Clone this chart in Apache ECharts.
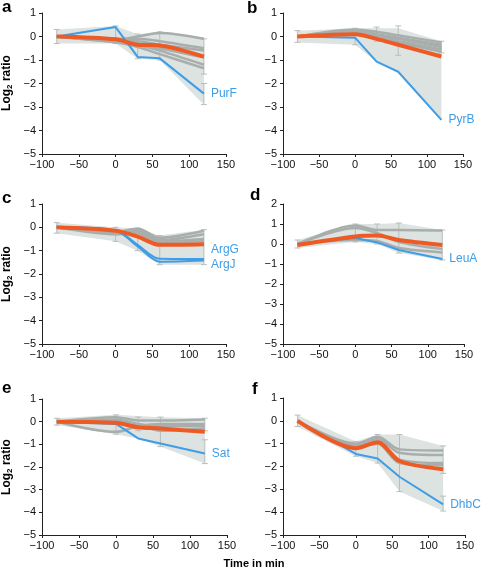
<!DOCTYPE html>
<html><head><meta charset="utf-8">
<script src="https://cdn.jsdelivr.net/npm/echarts@6/dist/echarts.min.js"></script>
<style>html,body{margin:0;padding:0;background:#fff}#c{width:484px;height:574px}</style>
</head><body><div id="c"></div>
<script>
// ---- data ----
const times = [-80, 0, 30, 60, 120];
const xTicks = [-100, -50, 0, 50, 100, 150];
const panelLetters = ['a', 'b', 'c', 'd', 'e', 'f'];
const highlightNames = [['PurF'], ['PyrB'], ['ArgG', 'ArgJ'], ['LeuA'], ['Sat'], ['DhbC']];

// panel a
const aBlue = [[0, 0.4, -0.87, -0.93, -2.43]];
const aMean = [0, -0.12, -0.35, -0.38, -0.86];
const aGray = [[0, -0.15, 0.0, 0.15, -0.1], [0, -0.1, -0.1, -0.2, -0.5], [0, -0.2, -0.2, -0.35, -0.6],
  [0, -0.15, -0.35, -0.6, -1.2], [0, -0.25, -0.45, -0.75, -1.35], [0, -0.2, -0.3, -0.5, -0.9]];
const aHi = [0.3, 0.45, 0.1, 0.2, -0.05];
const aLo = [-0.3, -0.3, -0.95, -1.0, -2.9];
const aErr = [[-80, -0.3, 0.3], [0, -0.3, 0.45], [30, -0.95, 0.1], [60, -1.0, 0.2], [120, -2.9, -2.0], [120, -1.6, -0.1]];

// panel b
const bBlue = [[0, -0.05, -1.07, -1.5, -3.55]];
const bMean = [0, 0.1, -0.1, -0.35, -0.85];
const bGray = [[0, 0.3, 0.2, 0.05, -0.25], [0, 0.25, 0.1, -0.05, -0.35], [0, 0.2, 0.05, -0.1, -0.45],
  [0, 0.15, 0.0, -0.2, -0.55], [0, 0.1, -0.05, -0.25, -0.65]];
const bHi = [0.25, 0.35, 0.35, 0.35, -0.2];
const bLo = [-0.25, -0.35, -1.07, -1.5, -3.55];
const bErr = [[-80, -0.25, 0.25], [0, -0.35, 0.35], [30, -0.2, 0.4], [60, -0.8, 0.45], [120, -0.7, -0.2]];

// panel c
const cBlue = [[0, -0.12, -0.75, -1.35, -1.36], [0, -0.15, -0.82, -1.47, -1.42]];
const cMean = [0, -0.15, -0.4, -0.75, -0.72];
const cGray = [[0, -0.2, -0.05, -0.45, -0.15], [0, -0.25, -0.1, -0.55, -0.3], [0, -0.3, -0.2, -0.6, -0.5],
  [0, -0.2, -0.25, -0.65, -0.6]];
const cHi = [0.2, 0.0, -0.05, -0.35, -0.1];
const cLo = [-0.25, -0.6, -1.0, -1.6, -1.6];
const cErr = [[-80, -0.25, 0.2], [0, -0.6, 0.0], [30, -1.0, -0.05], [60, -1.6, -0.35], [120, -1.6, -0.1]];

// panel d
const dBlue = [[0, 0.3, 0.08, -0.3, -0.75]];
const dMean = [-0.05, 0.38, 0.42, 0.2, -0.05];
const dGray = [[0, 0.92, 0.7, 0.7, 0.67], [0, 0.8, 0.55, 0.1, -0.25], [0, 0.2, 0.15, -0.2, -0.42]];
const dHi = [0.2, 1.0, 1.0, 1.05, 0.7];
const dLo = [-0.2, 0.1, 0.0, -0.45, -0.8];
const dErr = [[-80, -0.2, 0.2], [0, 0.1, 1.0], [30, 0.0, 1.0], [60, -0.45, 1.05], [120, -0.8, 0.7]];

// panel e
const eBlue = [[0, -0.1, -0.74, -0.96, -1.4]];
const eMean = [0, -0.05, -0.25, -0.3, -0.45];
const eGray = [[0, 0.2, 0.05, 0.05, 0.1], [0, -0.45, -0.2, -0.1, -0.1], [0, 0.1, -0.1, -0.2, -0.2],
  [0, 0.05, -0.15, -0.4, -0.3]];
const eHi = [0.15, 0.3, 0.25, 0.2, 0.15];
const eLo = [-0.15, -0.55, -0.75, -1.1, -1.85];
const eErr = [[-80, -0.15, 0.15], [0, -0.55, 0.3], [30, -0.4, 0.2], [60, -1.1, 0.2], [120, -1.85, -0.8], [120, -0.4, 0.15]];

// panel f
const fBlue = [[0, -1.45, -1.65, -2.45, -3.66]];
const fMean = [0, -1.2, -0.94, -1.76, -2.12];
const fGray = [[0, -1.0, -0.7, -1.25, -1.3], [0, -1.05, -0.8, -1.4, -1.5], [0, -1.1, -0.9, -1.7, -1.85],
  [0, -1.15, -1.0, -1.85, -1.95]];
const fHi = [0.25, -0.9, -0.6, -0.6, -1.1];
const fLo = [-0.25, -1.55, -1.85, -3.1, -3.95];
const fErr = [[-80, -0.25, 0.25], [0, -1.55, -0.9], [30, -1.85, -0.6], [60, -3.1, -0.6], [120, -3.95, -3.3], [120, -2.3, -1.1]];

const yMaxes = [1, 1, 1, 2, 1, 1];
const labelOffsets = [[0], [0], [-9, 4], [0], [0], [0]];

// ---- layout ----
const grids = [
  {left: 42, top: 13, width: 184, height: 141},
  {left: 283, top: 13, width: 180, height: 141},
  {left: 42, top: 204, width: 184, height: 140},
  {left: 283, top: 204, width: 181, height: 140},
  {left: 42, top: 399, width: 185, height: 136},
  {left: 283, top: 398, width: 182, height: 137}
];
const panels = [
  {blue: aBlue, mean: aMean, gray: aGray, hi: aHi, lo: aLo, err: aErr},
  {blue: bBlue, mean: bMean, gray: bGray, hi: bHi, lo: bLo, err: bErr},
  {blue: cBlue, mean: cMean, gray: cGray, hi: cHi, lo: cLo, err: cErr},
  {blue: dBlue, mean: dMean, gray: dGray, hi: dHi, lo: dLo, err: dErr},
  {blue: eBlue, mean: eMean, gray: eGray, hi: eHi, lo: eLo, err: eErr},
  {blue: fBlue, mean: fMean, gray: fGray, hi: fHi, lo: fLo, err: fErr}
];

const FONT = '"Liberation Sans", Arial, Helvetica, sans-serif';
const BAND = '#dde3e1', GRAY = '#a8aeac', ORANGE = '#ee5a24', BLUE = '#3f9de6', ERR = '#b8bebc';
const fmt = v => (v < 0 ? '\u2212' + Math.abs(v) : String(v));
const pts = arr => times.map((t, k) => [t, arr[k]]);

const xAxis = [], yAxis = [], series = [];
grids.forEach((g, i) => {
  xAxis.push({
    gridIndex: i, type: 'value', min: xTicks[0], max: xTicks[xTicks.length - 1], interval: 50,
    splitLine: {show: false},
    axisLine: {onZero: false, lineStyle: {color: '#222', width: 1}},
    axisTick: {show: true, length: 3, lineStyle: {color: '#222'}},
    axisLabel: {formatter: fmt, fontFamily: FONT, fontSize: 11, color: '#111', margin: 5}
  });
  yAxis.push({
    gridIndex: i, type: 'value', min: -5, max: yMaxes[i], interval: 1,
    splitLine: {show: false},
    axisLine: {show: true, onZero: false, lineStyle: {color: '#222', width: 1}},
    axisTick: {show: true, length: 3, lineStyle: {color: '#222'}},
    axisLabel: {formatter: fmt, fontFamily: FONT, fontSize: 11, color: '#111', margin: 6}
  });
  const p = panels[i];
  // band
  series.push({
    type: 'custom', xAxisIndex: i, yAxisIndex: i, silent: true, z: 1,
    data: [[times[0], p.hi[0]]],
    renderItem: (params, api) => {
      const poly = [];
      times.forEach((t, k) => poly.push(api.coord([t, p.hi[k]])));
      for (let k = times.length - 1; k >= 0; k--) poly.push(api.coord([times[k], p.lo[k]]));
      return {type: 'polygon', shape: {points: poly}, style: {fill: BAND}};
    }
  });
  // error bars
  series.push({
    type: 'custom', xAxisIndex: i, yAxisIndex: i, silent: true, z: 2,
    data: p.err, encode: {x: 0, y: [1, 2]},
    renderItem: (params, api) => {
      const a = api.coord([api.value(0), api.value(1)]);
      const b = api.coord([api.value(0), api.value(2)]);
      const st = {stroke: ERR, lineWidth: 1};
      return {type: 'group', children: [
        {type: 'line', shape: {x1: a[0], y1: a[1], x2: b[0], y2: b[1]}, style: st},
        {type: 'line', shape: {x1: a[0] - 3, y1: a[1], x2: a[0] + 3, y2: a[1]}, style: st},
        {type: 'line', shape: {x1: b[0] - 3, y1: b[1], x2: b[0] + 3, y2: b[1]}, style: st}
      ]};
    }
  });
  p.gray.forEach(arr => series.push({
    type: 'line', xAxisIndex: i, yAxisIndex: i, data: pts(arr), showSymbol: false, silent: true,
    smooth: 0.3, z: 3, lineStyle: {color: GRAY, width: 2.5}
  }));
  p.blue.forEach((arr, j) => series.push({
    type: 'line', xAxisIndex: i, yAxisIndex: i, data: pts(arr), showSymbol: false, silent: true,
    smooth: i === 2 ? 0.3 : false, z: 4, lineStyle: {color: BLUE, width: 2},
    endLabel: {show: true, formatter: highlightNames[i][j], color: BLUE, fontFamily: FONT, fontSize: 12,
      distance: 7, offset: [0, labelOffsets[i][j]]}
  }));
  series.push({
    type: 'line', xAxisIndex: i, yAxisIndex: i, data: pts(p.mean), showSymbol: false, silent: true,
    smooth: 0.3, z: 5, lineStyle: {color: ORANGE, width: 4}
  });
});

const graphic = [];
const letterPos = [[2, 16], [247, 17], [2, 207], [250, 204], [2, 397], [252, 398]];
letterPos.forEach((lp, i) => graphic.push({
  type: 'text', x: lp[0], y: lp[1],
  style: {text: panelLetters[i], font: 'bold 17px ' + FONT, fill: '#000', textVerticalAlign: 'bottom'}
}));
[[0, 83], [2, 274], [4, 467]].forEach(([gi, cy]) => graphic.push({
  type: 'text', x: 7, y: cy, rotation: Math.PI / 2,
  style: {
    text: '{a|Log}{s|2}{a| ratio}', align: 'center', verticalAlign: 'middle',
    rich: {
      a: {font: 'bold 12px ' + FONT, fill: '#000'},
      s: {font: 'bold 8px ' + FONT, fill: '#000', padding: [6, 0, 0, 0]}
    }
  }
}));
graphic.push({
  type: 'text', x: 254, y: 564,
  style: {text: 'Time in min', font: 'bold 11px ' + FONT, fill: '#000', align: 'center', verticalAlign: 'middle'}
});

const chart = echarts.init(document.getElementById('c'), null, {renderer: 'canvas'});
chart.setOption({animation: false, grid: grids, xAxis, yAxis, series, graphic});
</script></body></html>
